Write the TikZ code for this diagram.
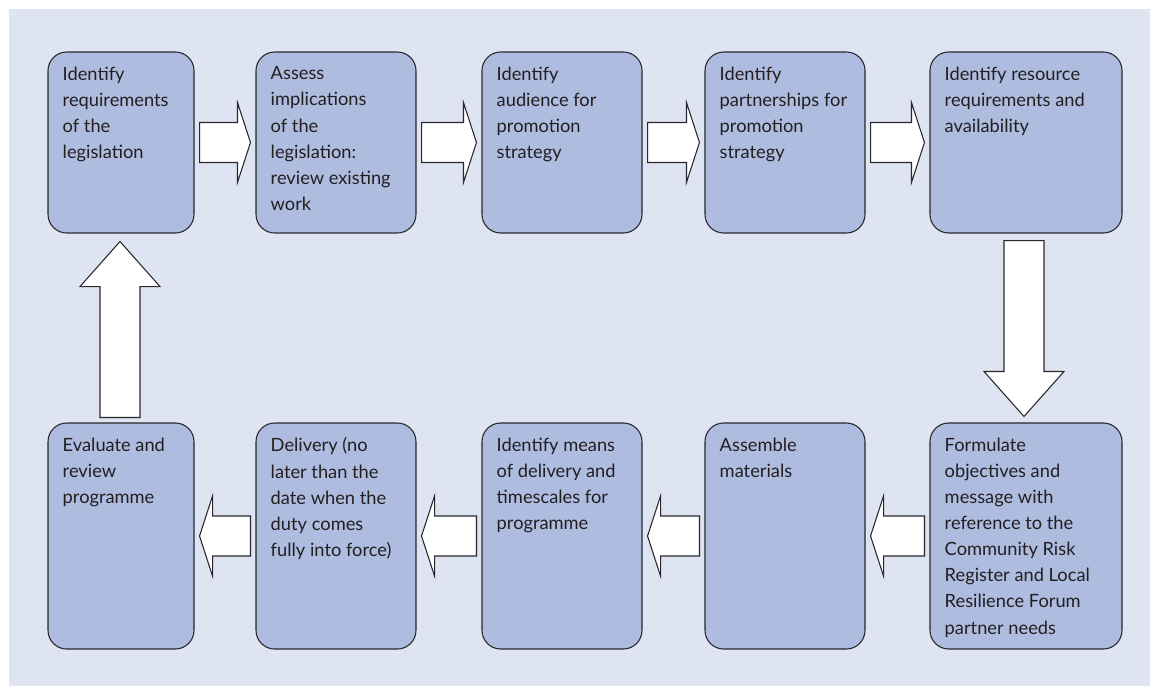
\documentclass[tikz,border=0pt]{standalone}
\usepackage{fontspec}
\setmainfont{Lato}
\usetikzlibrary{calc}
\definecolor{bgc}{RGB}{223,228,242}
\definecolor{boxc}{RGB}{174,188,224}
\definecolor{linec}{RGB}{40,40,44}
\definecolor{textc}{RGB}{35,31,32}
\tikzset{
 stepbox/.style={draw=linec,fill=boxc,line width=0.8pt,rounded corners=14pt,inner sep=0pt},
 toprow/.style={stepbox,minimum height=181*0.75pt},
 botrow/.style={stepbox,minimum height=226*0.75pt},
 lbl/.style={anchor=north west,align=left,inner sep=0pt,font=\fontsize{13.7}{19.6}\selectfont,text=textc},
 blockarrow/.style={draw=linec,fill=white,line width=0.8pt,line join=miter}
}
\newcommand{\blkright}[2]{%
 \draw[blockarrow] ($(#1.east)+(5,-20)$) -- ($(#2.west)+(-18,-20)$) -- ($(#2.west)+(-18,-40)$) -- ($(#2.west)+(-5,0)$) -- ($(#2.west)+(-18,40)$) -- ($(#2.west)+(-18,20)$) -- ($(#1.east)+(5,20)$) -- cycle;}
\newcommand{\blkleft}[2]{%
 \draw[blockarrow] ($(#1.west)+(-5,-20)$) -- ($(#2.east)+(18,-20)$) -- ($(#2.east)+(18,-40)$) -- ($(#2.east)+(5,0)$) -- ($(#2.east)+(18,40)$) -- ($(#2.east)+(18,20)$) -- ($(#1.west)+(-5,20)$) -- cycle;}
\begin{document}
\begin{tikzpicture}[x=0.75pt,y=-0.75pt]
\useasboundingbox (0,0) rectangle (1150,686);
\fill[bgc] (9,9) rectangle (1150,686);
% top row
\node[toprow,minimum width=146*0.75pt] (b1) at (121,142.5) {};
\node[toprow,minimum width=160*0.75pt] (b2) at (336,142.5) {};
\node[toprow,minimum width=160*0.75pt] (b3) at (562,142.5) {};
\node[toprow,minimum width=160*0.75pt] (b4) at (785,142.5) {};
\node[toprow,minimum width=192*0.75pt] (b5) at (1026,142.5) {};
% bottom row
\node[botrow,minimum width=146*0.75pt] (b6) at (121,536) {};
\node[botrow,minimum width=160*0.75pt] (b7) at (336,536) {};
\node[botrow,minimum width=160*0.75pt] (b8) at (562,536) {};
\node[botrow,minimum width=160*0.75pt] (b9) at (785,536) {};
\node[botrow,minimum width=192*0.75pt] (b10) at (1026,536) {};
% labels
\node[lbl] (t1) at ($(b1.north west)+(15,15)$) {Identify\\requirements\\of the\\legislation};
\node[lbl] (t2) at ($(b2.north west)+(15,15)$) {Assess\\implications\\of the\\legislation:\\review existing\\work};
\node[lbl] (t3) at ($(b3.north west)+(15,15)$) {Identify\\audience for\\promotion\\strategy};
\node[lbl] (t4) at ($(b4.north west)+(15,15)$) {Identify\\partnerships for\\promotion\\strategy};
\node[lbl] (t5) at ($(b5.north west)+(15,15)$) {Identify resource\\requirements and\\availability};
\node[lbl] (t6) at ($(b6.north west)+(15,15)$) {Evaluate and\\review\\programme};
\node[lbl] (t7) at ($(b7.north west)+(15,15)$) {Delivery (no\\later than the\\date when the\\duty comes\\fully into force)};
\node[lbl] (t8) at ($(b8.north west)+(15,15)$) {Identify means\\of delivery and\\timescales for\\programme};
\node[lbl] (t9) at ($(b9.north west)+(15,15)$) {Assemble\\materials};
\node[lbl] (t10) at ($(b10.north west)+(15,15)$) {Formulate\\objectives and\\message with\\reference to the\\Community Risk\\Register and Local\\Resilience Forum\\partner needs};
% arrows
\blkright{b1}{b2}
\blkright{b2}{b3}
\blkright{b3}{b4}
\blkright{b4}{b5}
\blkleft{b10}{b9}
\blkleft{b9}{b8}
\blkleft{b8}{b7}
\blkleft{b7}{b6}
\draw[blockarrow] ($(b5.south)+(-22,7)$) -- ($(b10.north)+(-22,-51)$) -- ($(b10.north)+(-42,-51)$) -- ($(b10.north)+(-2,-6)$) -- ($(b10.north)+(38,-51)$) -- ($(b10.north)+(18,-51)$) -- ($(b5.south)+(18,7)$) -- cycle;
\draw[blockarrow] ($(b6.north)+(-21,-5)$) -- ($(b1.south)+(-21,53)$) -- ($(b1.south)+(-41,53)$) -- ($(b1.south)+(-1,8)$) -- ($(b1.south)+(39,53)$) -- ($(b1.south)+(19,53)$) -- ($(b6.north)+(19,-5)$) -- cycle;
\end{tikzpicture}
\end{document}
